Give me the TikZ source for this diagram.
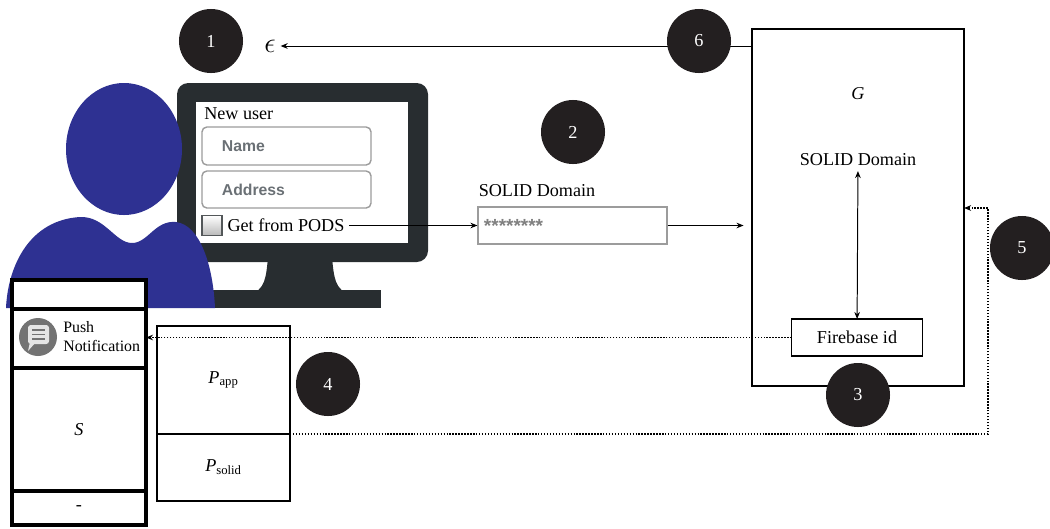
\documentclass[tikz,border=0pt]{standalone}
\usepackage{fontspec}
\setmainfont{Liberation Serif}
\newfontfamily\formfont{Liberation Sans}
\usetikzlibrary{arrows.meta,positioning}
\definecolor{screendark}{HTML}{282D30}
\definecolor{userblue}{HTML}{2E3192}
\definecolor{stepblack}{HTML}{231F20}
\definecolor{formgrey}{HTML}{9C9C9C}
\definecolor{labelgrey}{HTML}{6A7075}
\definecolor{icongrey}{HTML}{737373}

\begin{document}
\begin{tikzpicture}[x=0.025cm,y=-0.025cm,
  >={Stealth[length=5pt,width=4pt]},
  txt/.style={font=\fontsize{12.9}{15}\selectfont},
  stepnum/.style={circle,fill=stepblack,text=white,minimum size=1.6cm,inner sep=0pt,
                  font=\fontsize{13}{15}\selectfont},
  panel/.style={draw,line width=0.9pt,fill=white,inner sep=0pt,outer sep=0pt,txt},
  phsec/.style={draw,line width=2.8pt,fill=white,minimum width=3.35cm,inner sep=0pt,
                outer sep=0pt,txt},
  field/.style={draw=formgrey,line width=1pt,rounded corners=3.5pt,fill=white,
                inner xsep=0.5cm,inner ysep=0pt,text width=3.225cm,align=left,
                minimum height=0.95cm,font=\formfont\bfseries\fontsize{11.2}{13}\selectfont,
                text=labelgrey},
  flow/.style={->,line width=0.7pt},
  dotflow/.style={->,line width=0.9pt,dash pattern=on 1pt off 1.1pt}
]
\useasboundingbox (0,0) rectangle (1050,528);

% monitor
\fill[screendark,rounded corners=8pt] (177,83) rectangle (428,262);
\fill[white] (196,102) rectangle (408,243);
\fill[screendark] (268,258) .. controls (266,275) and (266,292) .. (248,294) -- (352,294)
  .. controls (334,292) and (334,275) .. (332,258) -- cycle;
\fill[screendark] (213,290) rectangle (381,308);

% user
\fill[userblue] (124,149) ellipse [x radius=58,y radius=66];
\fill[userblue] (6,308) .. controls (8,265) and (30,220) .. (80,217)
  .. controls (105,216) and (115,243) .. (132,243)
  .. controls (148,243) and (155,220) .. (176,222)
  .. controls (200,225) and (213,265) .. (215,308) -- cycle;

% form on the screen
\node[txt,anchor=west,inner sep=0pt] (newuser) at (204,114) {New user};
\node[field] (namef) at (286.5,146) {Name};
\node[field,minimum height=0.925cm] (addrf) at (286.5,189.5) {Address};
\node[draw=screendark!80,line width=0.8pt,top color=white,bottom color=gray!55,
      minimum size=0.5cm,inner sep=0pt] (chk) at (212,225.5) {};
\node[txt,right=0pt of chk] (pods) {Get from PODS};

\node[txt] (soliddom) at (537,191) {SOLID Domain};
\node[draw=formgrey,line width=0.8pt,fill=white,inner xsep=0.15cm,text width=4.425cm,
      align=left,minimum height=0.925cm,font=\formfont\bfseries\fontsize{13.5}{15}\selectfont,
      text=gray] (pwd) at (572.5,225.5) {********};

\node[txt] (eps) at (270,46) {\scalebox{1.7}{$\epsilon$}};
\node[panel,minimum width=5.3cm,minimum height=8.925cm] (gbox) at (858,207.5) {};
\node[txt] (g) at (858,94) {\textit{G}};
\node[txt] (gdom) at (858,160) {SOLID Domain};
\node[panel,minimum width=3.275cm,minimum height=0.925cm] (fire) at (857,337.5) {Firebase id};

% phone
\node[phsec,minimum height=0.725cm] (phtop) at (79,294.5) {};
\node[phsec,minimum height=1.475cm,below=0pt of phtop] (push) {};
\node[phsec,minimum height=3.075cm,below=0pt of push] (smain) {\textit{S}};
\node[phsec,minimum height=0.85cm,below=0pt of smain] (phbot) {-};
\fill[icongrey] (38,337) circle (19);
\fill[gray!20,rounded corners=2pt] (28,325) rectangle (49,344);
\fill[gray!20] (30,342) -- (28,351) -- (36,342) -- cycle;
\draw[icongrey,line width=1.1pt] (32,330) -- (45,330) (32,334.5) -- (45,334.5) (32,339) -- (45,339);
\node[anchor=west,align=left,inner sep=0pt,font=\fontsize{11.3}{13.5}\selectfont] (pushtxt)
  at (63,337) {Push\\Notification};

\node[panel,minimum width=3.325cm,minimum height=2.7cm] (papp) at (223.5,380)
  {\textit{P}\textsubscript{app}};
\node[panel,minimum width=3.325cm,minimum height=1.675cm,below=0pt of papp] (psolid)
  {\textit{P}\textsubscript{solid}};

\coordinate (turn) at (988,208);

\draw[flow] (gbox.west |- eps) -- (eps);
\draw[flow] (pods) -- (pwd);
\draw[flow,shorten >=6pt] (pwd) -- (gbox.west |- pwd);
\draw[flow,<->] (gdom) -- (fire);
\draw[dotflow] (fire) -- (push.east |- fire);
\draw[dotflow] (papp.south east) -| (turn) -- (gbox.east |- turn);

\node[stepnum] (n1) at (211,41) {1};
\node[stepnum] (n2) at (573,132) {2};
\node[stepnum] (n3) at (858,395) {3};
\node[stepnum] (n4) at (328,384) {4};
\node[stepnum] (n5) at (1022,248) {5};
\node[stepnum] (n6) at (699,41) {6};
\end{tikzpicture}
\end{document}
